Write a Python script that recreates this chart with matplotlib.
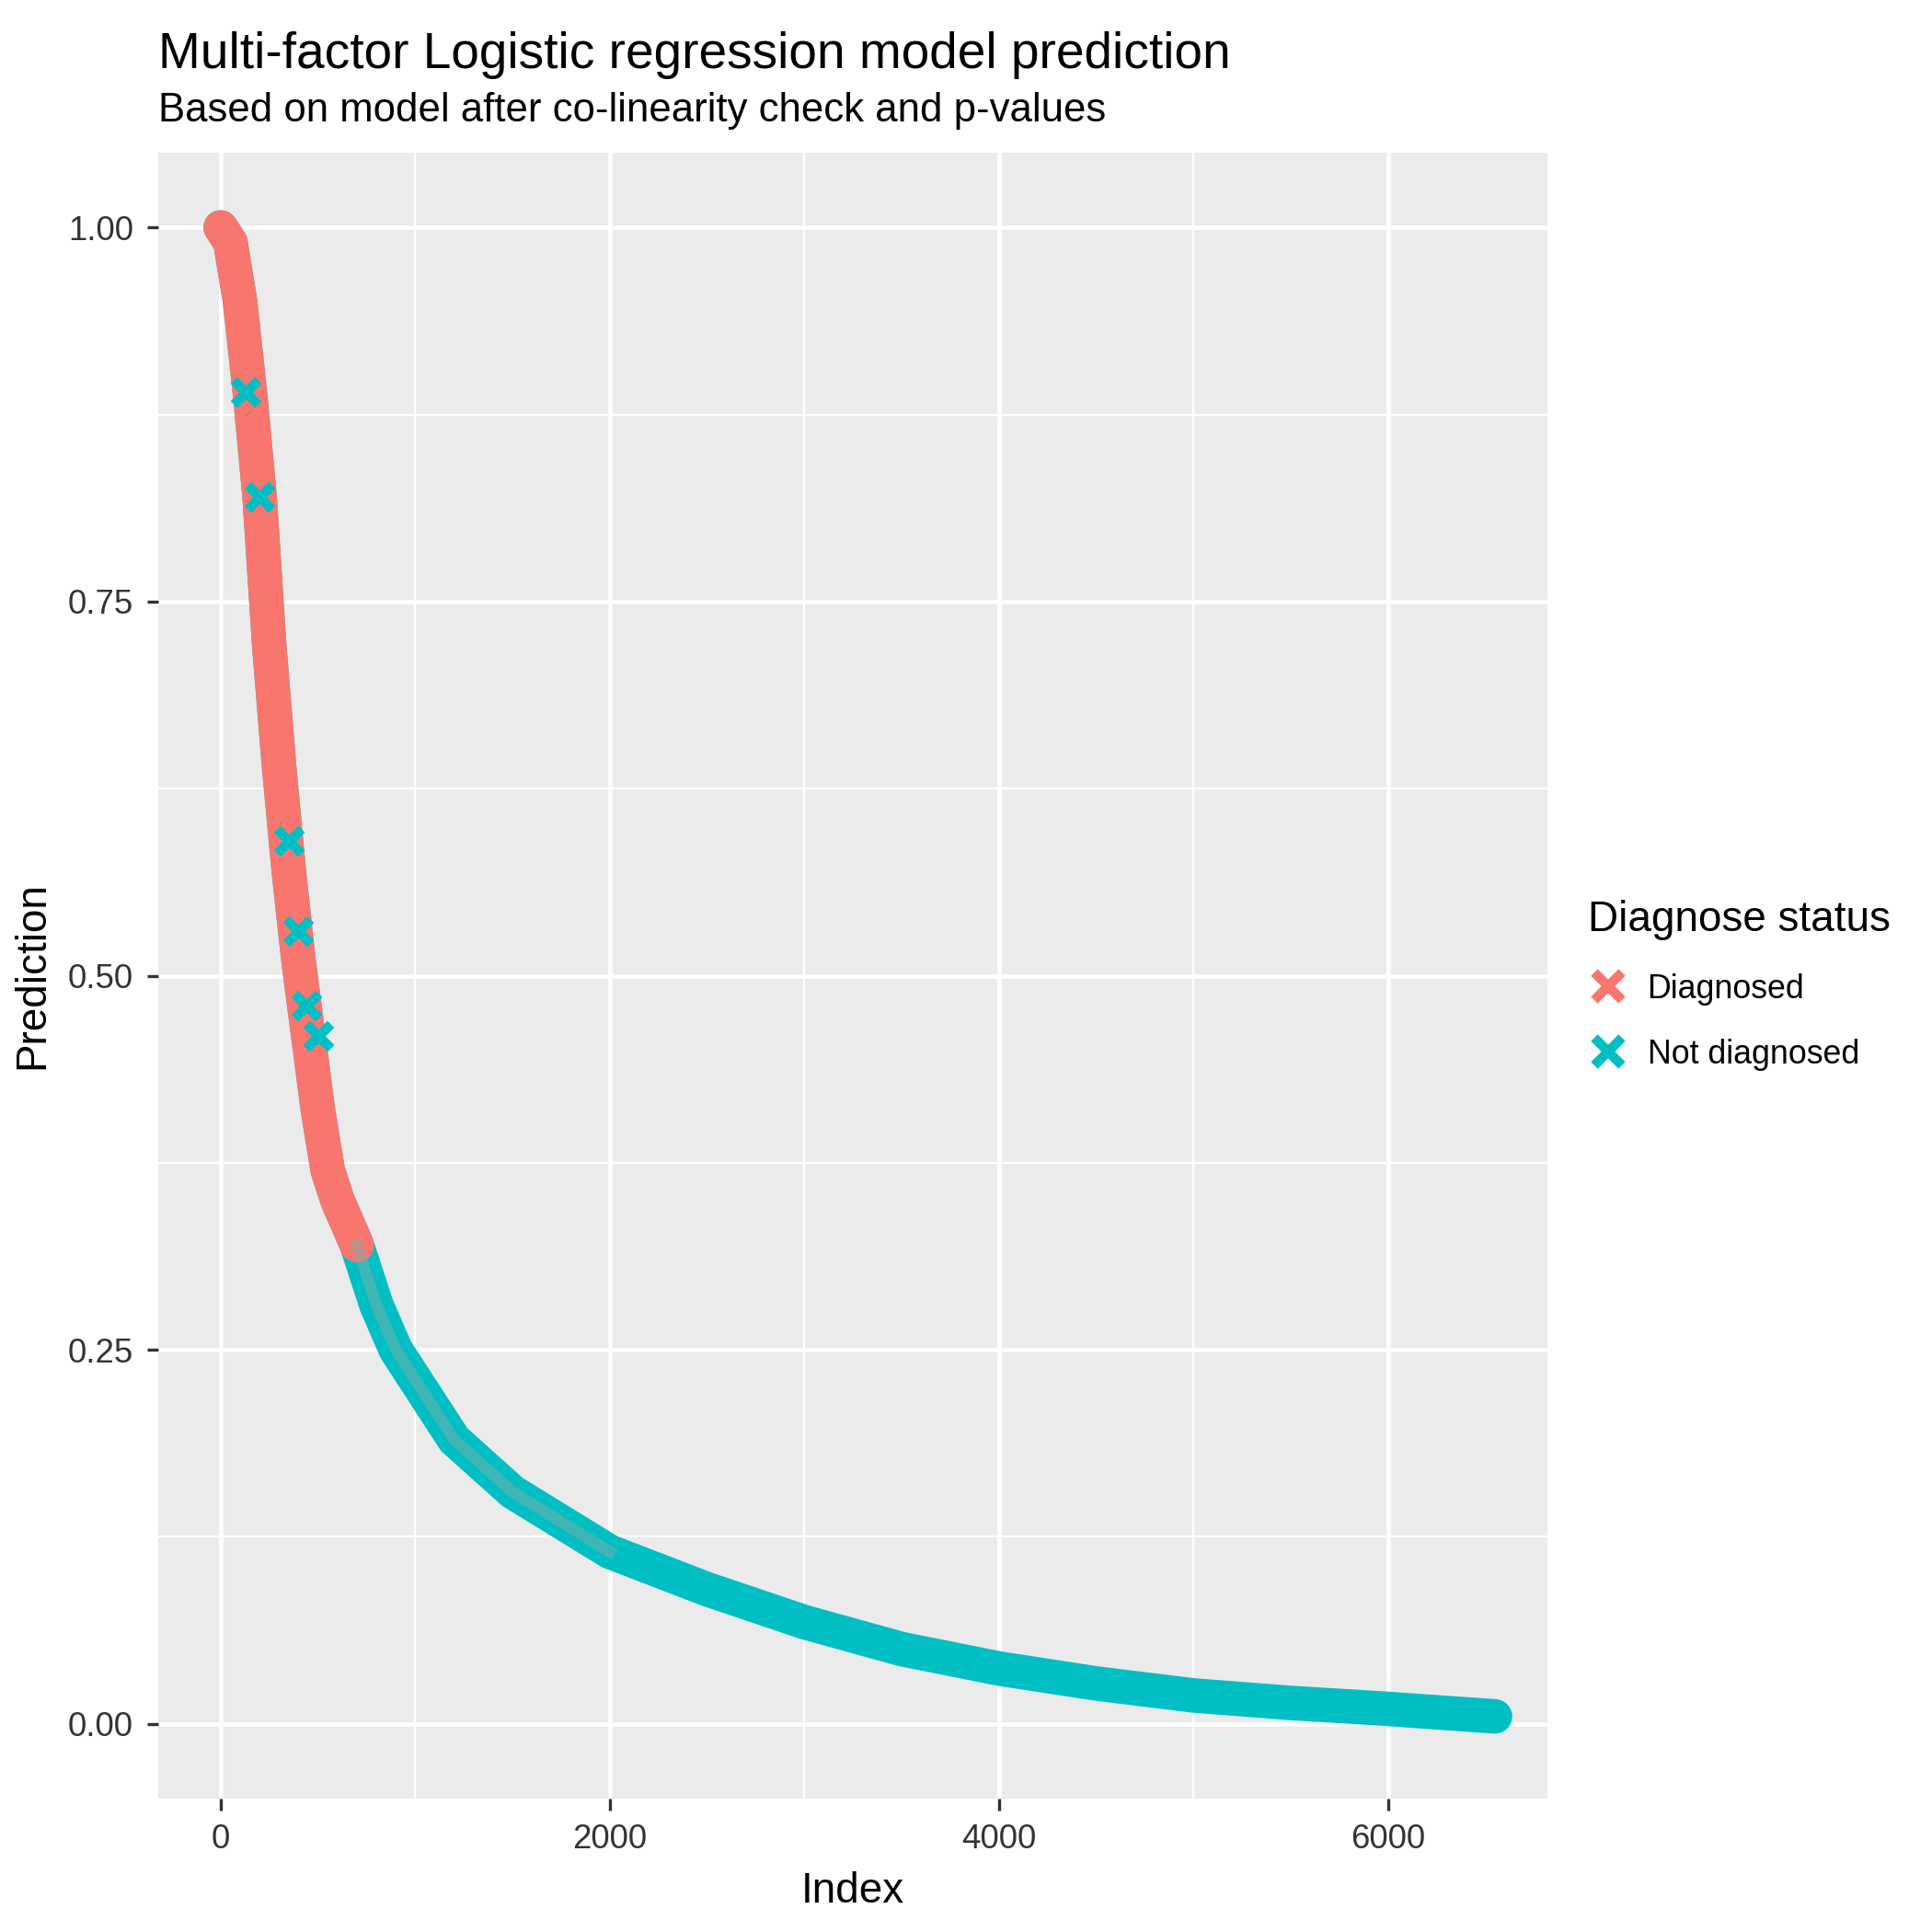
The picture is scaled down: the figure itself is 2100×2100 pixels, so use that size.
"""Recreate the logistic regression prediction chart."""
import numpy as np
from matplotlib import pyplot as plt
from matplotlib.lines import Line2D

plt.rcParams['font.family'] = ['Liberation Sans', 'DejaVu Sans']

# curve (sorted predictions)
index = [0, 50, 100, 150, 200, 250, 300, 350, 400, 450, 500, 550, 600, 700,
         800, 900, 1000, 1200, 1500, 2000, 2500, 3000, 3500, 4000, 4500,
         5000, 5500, 6000, 6550]
prediction = [1.0, 0.99, 0.95, 0.89, 0.82, 0.72, 0.64, 0.57, 0.51, 0.46,
              0.41, 0.37, 0.35, 0.32, 0.28, 0.25, 0.23, 0.19, 0.155, 0.115,
              0.09, 0.068, 0.05, 0.037, 0.027, 0.019, 0.014, 0.01, 0.005]
# highlighted "not diagnosed" points in the diagnosed region
nd_index = [130, 200, 350, 400, 440, 500]
nd_pred = [0.89, 0.82, 0.59, 0.53, 0.48, 0.46]

RED = "#F8766D"
CYAN = "#00BFC4"

fig = plt.figure(figsize=(7, 7), dpi=300)
ax = fig.add_axes([0.082, 0.069, 0.719, 0.852])
ax.set_facecolor("#EBEBEB")
for s in ax.spines.values():
    s.set_visible(False)

idx = np.array(index)
pr = np.array(prediction)
ax.plot(idx, pr, color=CYAN, lw=9, solid_capstyle="round", zorder=2)
early = idx <= 700
ax.plot(idx[early], pr[early], color=RED, lw=9, solid_capstyle="round", zorder=3)
mid = (idx >= 700) & (idx <= 2000)
ax.plot(idx[mid], pr[mid], color="#7FAFA8", lw=3, alpha=0.5, zorder=3)
ax.scatter(nd_index, nd_pred, marker="x", s=40, color=CYAN, linewidths=2.5, zorder=4)

ax.set_xlim(-320, 6820)
ax.set_ylim(-0.05, 1.05)
ax.set_xticks([0, 2000, 4000, 6000])
ax.set_xticks([1000, 3000, 5000], minor=True)
ax.set_yticks([0, 0.25, 0.5, 0.75, 1.0])
ax.set_yticklabels(["0.00", "0.25", "0.50", "0.75", "1.00"])
ax.set_yticks([0.125, 0.375, 0.625, 0.875], minor=True)
ax.grid(which="major", color="white", lw=1.1)
ax.grid(which="minor", color="white", lw=0.55)
ax.set_axisbelow(True)
ax.tick_params(which="major", colors="#333333", labelsize=8.8, length=3, color="#333333")
ax.tick_params(which="minor", length=0)
ax.set_xlabel("Index", fontsize=11)
ax.set_ylabel("Prediction", fontsize=11)

fig.text(0.082, 0.965, "Multi-factor Logistic regression model prediction", fontsize=13.2)
fig.text(0.082, 0.937, "Based on model after co-linearity check and p-values", fontsize=10.5)

handles = [Line2D([], [], ls="", marker="x", ms=7, mew=2.5, color=RED),
           Line2D([], [], ls="", marker="x", ms=7, mew=2.5, color=CYAN)]
leg = fig.legend(handles, ["Diagnosed", "Not diagnosed"], title="Diagnose status",
                 loc="center left", bbox_to_anchor=(0.81, 0.49), frameon=False,
                 fontsize=8.6, title_fontsize=11, handletextpad=0.6,
                 handlelength=1.2, labelspacing=1.0, borderpad=0.2)
leg._legend_box.align = "left"

fig.savefig("out.png")
